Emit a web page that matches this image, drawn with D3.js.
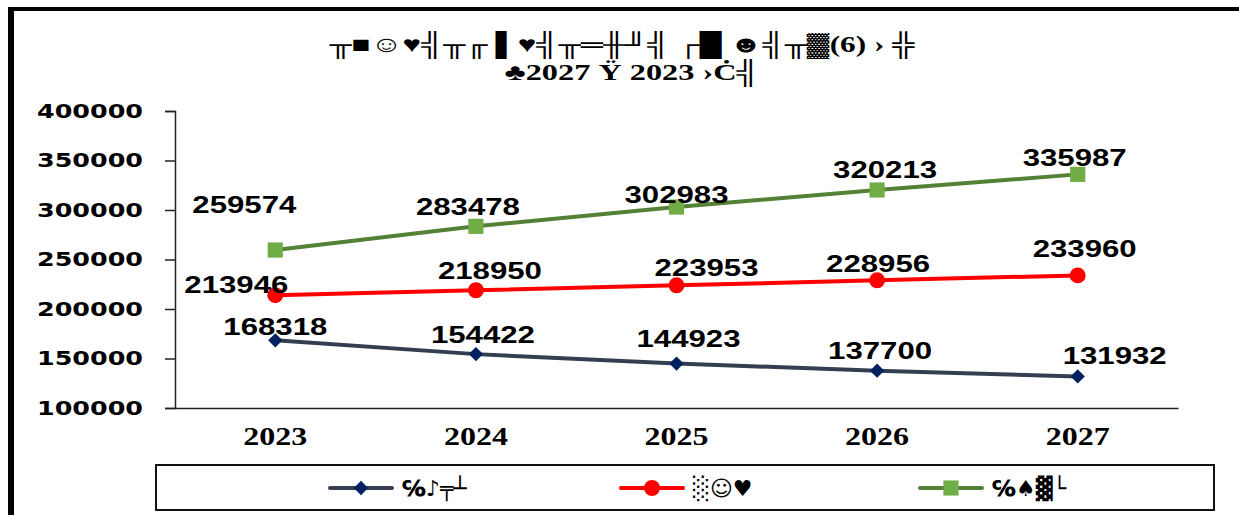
<!DOCTYPE html>
<html>
<head>
<meta charset="utf-8">
<script src="https://cdn.jsdelivr.net/npm/d3@7"></script>
<style>
  body { margin: 0; background: #fff; }
  svg { display: block; }
</style>
</head>
<body>
<div class="chart"></div>
<script>
var svgWidth = 1239;
var svgHeight = 515;

// data
var years = ["2023", "2024", "2025", "2026", "2027"];
var seriesNames = ["℅♪╤┴", "░☺♥", "℅♠▓└"];
var blueValues = [168318, 154422, 144923, 137700, 131932];
var redValues = [213946, 218950, 223953, 228956, 233960];
var greenValues = [259574, 283478, 302983, 320213, 335987];
var yTicks = [100000, 150000, 200000, 250000, 300000, 350000, 400000];
var titleLines = ["╥■☺♥╣╥╓ ▌♥╣╥═╫╜╣ ┌█ ☻╣╥▓(6) › ╬", "♣2027 Ÿ 2023 ›Ċ╣"];

// label nudges (layout only), [dx, dy] from each point
var blueOffsets = [[0, -14], [7, -19], [12, -25], [3, -20], [37, -21]];
var redOffsets = [[-39, -10], [14, -20], [30, -18], [1, -17], [7, -27]];
var greenOffsets = [[-31, -45], [-8, -20], [0, -12], [8, -20], [-3, -17]];

var margin = { top: 111, right: 61, bottom: 107, left: 175 };
var width = svgWidth - margin.left - margin.right;
var height = svgHeight - margin.top - margin.bottom;

var svg = d3.select(".chart")
  .append("svg")
  .attr("width", svgWidth)
  .attr("height", svgHeight);

// outer frame (top + left edges only visible)
svg.append("line")
  .attr("x1", 8).attr("x2", svgWidth).attr("y1", 9).attr("y2", 9)
  .attr("stroke", "#000").attr("stroke-width", 4);
svg.append("line")
  .attr("x1", 11).attr("x2", 11).attr("y1", 7).attr("y2", svgHeight)
  .attr("stroke", "#000").attr("stroke-width", 6);

// title, two lines
svg.append("text")
  .attr("x", 622).attr("y", 52)
  .attr("text-anchor", "middle")
  .attr("font-family", "'Liberation Serif', 'DejaVu Sans', serif")
  .attr("font-weight", "bold")
  .attr("font-size", "23px")
  .attr("textLength", 585)
  .attr("lengthAdjust", "spacingAndGlyphs")
  .text(titleLines[0]);
svg.append("text")
  .attr("x", 632).attr("y", 80)
  .attr("text-anchor", "middle")
  .attr("font-family", "'Liberation Serif', 'DejaVu Sans', serif")
  .attr("font-weight", "bold")
  .attr("font-size", "23px")
  .attr("textLength", 255)
  .attr("lengthAdjust", "spacingAndGlyphs")
  .text(titleLines[1]);

var chart = svg.append("g")
  .attr("transform", `translate(${margin.left}, ${margin.top})`);

var xScale = d3.scaleBand()
  .domain(years)
  .range([0, width]);

var yScale = d3.scaleLinear()
  .domain([100000, 400000])
  .range([height, 0]);

// y axis
var yAxis = chart.append("g")
  .call(d3.axisLeft(yScale).tickValues(yTicks).tickSize(10).tickFormat(d3.format("d")));
yAxis.select(".domain").attr("stroke", "#222").attr("stroke-width", 1.5);
yAxis.selectAll(".tick line").attr("stroke", "#222").attr("stroke-width", 1.5);
yAxis.selectAll(".tick text")
  .attr("x", -32)
  .attr("font-family", "'DejaVu Sans', sans-serif")
  .attr("font-weight", "bold")
  .attr("font-size", "19px")
  .attr("fill", "#000")
  .attr("textLength", 106)
  .attr("lengthAdjust", "spacingAndGlyphs");

// x axis
var xAxis = chart.append("g")
  .attr("transform", `translate(0, ${height})`)
  .call(d3.axisBottom(xScale).tickSize(0).tickSizeOuter(0));
xAxis.select(".domain").attr("stroke", "#222").attr("stroke-width", 1.5);
xAxis.selectAll(".tick text")
  .attr("y", 37)
  .attr("dy", 0)
  .attr("font-family", "'Liberation Serif', serif")
  .attr("font-weight", "bold")
  .attr("font-size", "25px")
  .attr("fill", "#000")
  .attr("textLength", 64)
  .attr("lengthAdjust", "spacingAndGlyphs");

var series = [
  { values: blueValues, offsets: blueOffsets, line: "#333F50", marker: "#002060", shape: d3.symbolDiamond2, size: 130 },
  { values: redValues, offsets: redOffsets, line: "#FF0000", marker: "#FF0000", shape: d3.symbolCircle, size: 200 },
  { values: greenValues, offsets: greenOffsets, line: "#538135", marker: "#70AD47", shape: d3.symbolSquare, size: 230 }
];

var cx = d => xScale(d) + xScale.bandwidth() / 2;

var lineGen = d3.line()
  .x((d, i) => cx(years[i]))
  .y(d => yScale(d));

series.forEach(function(s) {
  chart.append("path")
    .attr("d", lineGen(s.values))
    .attr("fill", "none")
    .attr("stroke", s.line)
    .attr("stroke-width", 4);

  chart.selectAll(null)
    .data(s.values)
    .enter()
    .append("path")
    .attr("transform", (d, i) => `translate(${cx(years[i])}, ${yScale(d)})`)
    .attr("d", d3.symbol().type(s.shape).size(s.size))
    .attr("fill", s.marker);

  chart.selectAll(null)
    .data(s.values)
    .enter()
    .append("text")
    .attr("x", (d, i) => cx(years[i]) + s.offsets[i][0])
    .attr("y", (d, i) => yScale(d) + s.offsets[i][1])
    .attr("dy", "0.36em")
    .attr("text-anchor", "middle")
    .attr("font-family", "'Liberation Sans', Arial, sans-serif")
    .attr("font-weight", "bold")
    .attr("font-size", "23px")
    .attr("fill", "#000")
    .attr("textLength", 104)
    .attr("lengthAdjust", "spacingAndGlyphs")
    .text(d => d);
});

// legend
svg.append("rect")
  .attr("x", 156).attr("y", 465)
  .attr("width", 1058).attr("height", 45)
  .attr("fill", "#fff")
  .attr("stroke", "#111").attr("stroke-width", 2);

var legendX = [330, 621, 920];
series.forEach(function(s, i) {
  var g = svg.append("g").attr("transform", `translate(${legendX[i]}, 488)`);
  g.append("line")
    .attr("x1", 0).attr("x2", 62)
    .attr("stroke", s.line).attr("stroke-width", 4)
    .attr("stroke-linecap", "round");
  g.append("path")
    .attr("transform", "translate(31, 0)")
    .attr("d", d3.symbol().type(s.shape).size(s.size))
    .attr("fill", s.marker);
  g.append("text")
    .attr("x", 72).attr("y", 0)
    .attr("dy", "0.35em")
    .attr("font-family", "'DejaVu Sans', sans-serif")
    .attr("font-weight", "bold")
    .attr("font-size", "22px")
    .attr("fill", "#000")
    .text(seriesNames[i]);
});
</script>
</body>
</html>
